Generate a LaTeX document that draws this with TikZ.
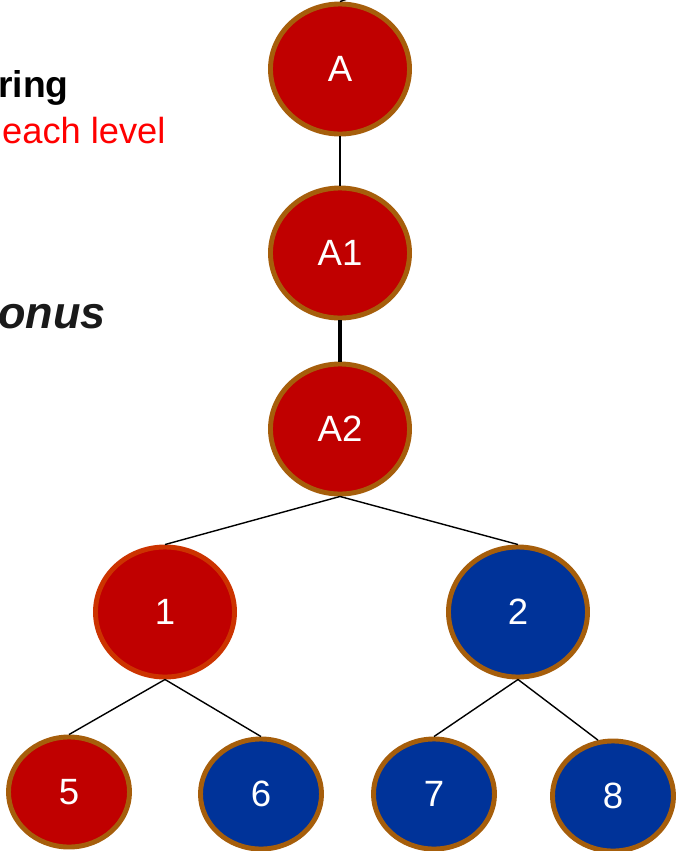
\documentclass[tikz,border=0pt]{standalone}
\usepackage{fontspec}
\setmainfont{Liberation Sans}
\usepackage{tikz}
\usetikzlibrary{shapes.geometric}

\definecolor{nodered}{HTML}{C00000}
\definecolor{nodeblue}{HTML}{003399}
\definecolor{rim}{HTML}{A65E0B}
\definecolor{rimred}{HTML}{CC3300}
\definecolor{textred}{HTML}{FF0000}
\definecolor{textdark}{HTML}{1A1A1A}

\begin{document}
\begin{tikzpicture}[x=0.025cm, y=-0.025cm,
		every node/.style={ellipse, draw=rim, line width=3.5pt, text=white, inner sep=0pt,
			font=\fontsize{26}{30}\selectfont},
		big/.style={minimum width=3.475cm, minimum height=3.25cm},
		small/.style={minimum width=3.025cm, minimum height=2.75cm},
		red/.style={fill=nodered},
		blue/.style={fill=nodeblue},
		label/.style={draw=none, rectangle, anchor=base east, inner sep=0pt},
		every path/.style={draw=black, line width=1pt}]
			\path[use as bounding box, draw=none] (0,0) rectangle (679,851);
			
			% side texts
			\node[label, font=\bfseries\fontsize{26.5}{30}\selectfont, text=black] (ring) at (71,97) {ring};
			\node[label, font=\fontsize{25.8}{30}\selectfont, text=textred] (level) at (168,143) {each level};
			\node[label, font=\bfseries\itshape\fontsize{32}{36}\selectfont, text=textdark] (onus) at (108,328) {onus};
			
			\coordinate (up) at (362,-6);
			
			\node[big, red] (A) at (340,69){A};
			\node[big, red] (A1) at (340,253){A1};
			\node[big, red] (A2) at (340,429){A2};
			\node[big, red, draw=rimred] (n1) at (165,612){1};
			\node[big, blue] (n2) at (518,612){2};
			\node[small, red] (n5) at (69,792){5};
			\node[small, blue] (n6) at (261,794){6};
			\node[small, blue] (n7) at (434,794){7};
			\node[small, blue] (n8) at (613,796){8};
			
			\path (A.north) edge (up);
			\path (A) edge (A1);
			\path (A1) edge[line width=3.5pt] (A2);
			\path (A2.south) edge (n1.north);
			\path (A2.south) edge (n2.north);
			\path (n1.south) edge (n5.north);
			\path (n1.south) edge (n6.north);
			\path (n2.south) edge (n7.north);
			\path (n2.south) edge (n8.105);
			\end{tikzpicture}
\end{document}
